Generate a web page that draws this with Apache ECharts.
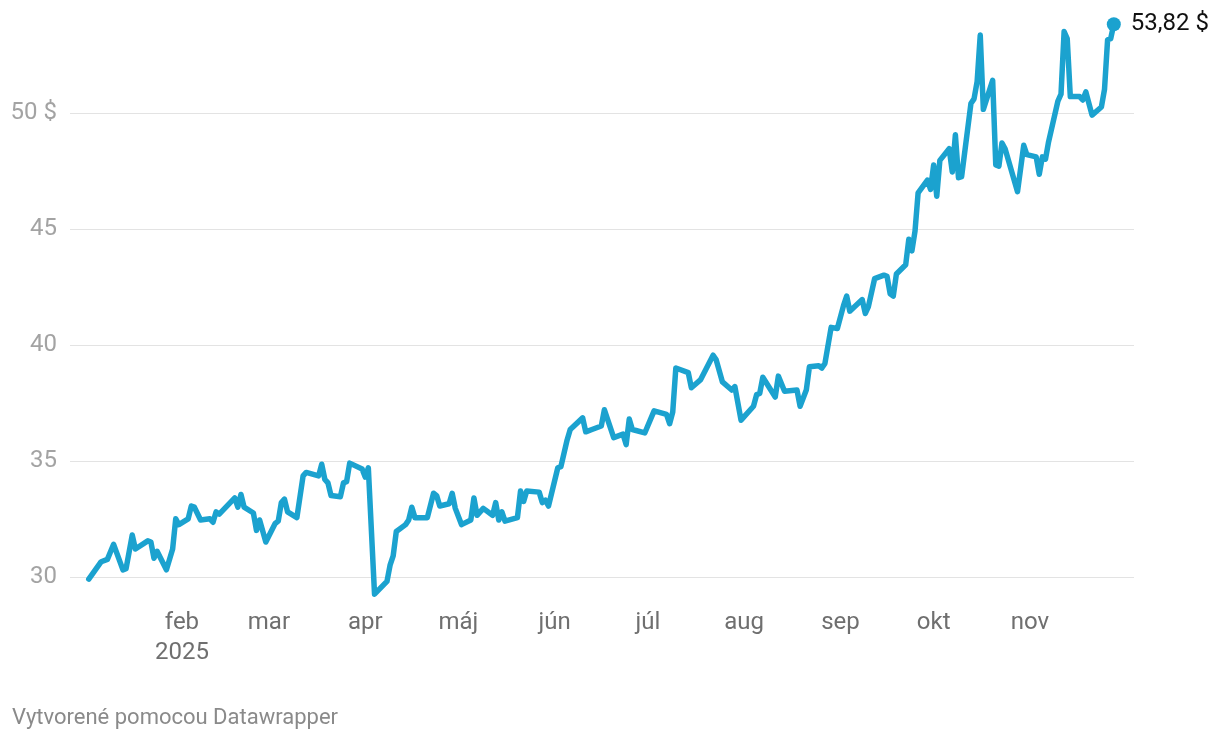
<!DOCTYPE html>
<html><head><meta charset="utf-8">
<script src="https://cdn.jsdelivr.net/npm/echarts@6/dist/echarts.min.js"></script>
<style>html,body{margin:0;padding:0;background:#fff}#c{width:1220px;height:742px}</style>
</head><body><div id="c"></div>
<script>
const dates = [
'2025-01-02','2025-01-06','2025-01-08','2025-01-10','2025-01-13','2025-01-14','2025-01-16','2025-01-17','2025-01-21','2025-01-22','2025-01-23','2025-01-24','2025-01-27','2025-01-29','2025-01-30','2025-01-31',
'2025-02-03','2025-02-04','2025-02-05','2025-02-07','2025-02-10','2025-02-11','2025-02-12','2025-02-13','2025-02-18','2025-02-19','2025-02-20','2025-02-21','2025-02-24','2025-02-25','2025-02-26','2025-02-28',
'2025-03-03','2025-03-04','2025-03-05','2025-03-06','2025-03-07','2025-03-10','2025-03-12','2025-03-13','2025-03-17','2025-03-18','2025-03-19','2025-03-20','2025-03-21','2025-03-24','2025-03-25','2025-03-26','2025-03-27','2025-03-31',
'2025-04-01','2025-04-02','2025-04-04','2025-04-08','2025-04-09','2025-04-10','2025-04-11','2025-04-14','2025-04-15','2025-04-16','2025-04-17','2025-04-21','2025-04-23','2025-04-24','2025-04-25','2025-04-28','2025-04-29','2025-04-30',
'2025-05-02','2025-05-05','2025-05-06','2025-05-07','2025-05-09','2025-05-12','2025-05-13','2025-05-14','2025-05-15','2025-05-16','2025-05-20','2025-05-21','2025-05-22','2025-05-23','2025-05-27','2025-05-28','2025-05-29','2025-05-30',
'2025-06-02','2025-06-03','2025-06-05','2025-06-06','2025-06-10','2025-06-11','2025-06-13','2025-06-16','2025-06-17','2025-06-18','2025-06-20','2025-06-23','2025-06-24','2025-06-25','2025-06-26','2025-06-30',
'2025-07-03','2025-07-07','2025-07-08','2025-07-09','2025-07-10','2025-07-14','2025-07-15','2025-07-18','2025-07-22','2025-07-23','2025-07-25','2025-07-28','2025-07-29','2025-07-31',
'2025-08-04','2025-08-05','2025-08-06','2025-08-07','2025-08-11','2025-08-12','2025-08-14','2025-08-18','2025-08-19','2025-08-21','2025-08-22','2025-08-25','2025-08-26','2025-08-27','2025-08-29','2025-08-31',
'2025-09-02','2025-09-03','2025-09-04','2025-09-08','2025-09-09','2025-09-10','2025-09-12','2025-09-15','2025-09-16','2025-09-17','2025-09-18','2025-09-19','2025-09-22','2025-09-23','2025-09-24','2025-09-25','2025-09-26','2025-09-29','2025-09-30',
'2025-10-01','2025-10-02','2025-10-03','2025-10-06','2025-10-07','2025-10-08','2025-10-09','2025-10-10','2025-10-13','2025-10-14','2025-10-15','2025-10-16','2025-10-17','2025-10-20','2025-10-21','2025-10-22','2025-10-23','2025-10-24','2025-10-28','2025-10-30','2025-10-31',
'2025-11-03','2025-11-04','2025-11-05','2025-11-06','2025-11-07','2025-11-10','2025-11-11','2025-11-12','2025-11-13','2025-11-14','2025-11-17','2025-11-18','2025-11-19','2025-11-21','2025-11-24','2025-11-25','2025-11-26','2025-11-27','2025-11-28'
];
const prices = [
29.9,30.65,30.75,31.4,30.3,30.35,31.8,31.2,31.55,31.5,30.8,31.1,30.3,31.2,32.5,32.25,
32.5,33.05,33.0,32.45,32.5,32.35,32.8,32.7,33.4,33.0,33.55,33.0,32.75,32.0,32.45,31.5,
32.3,32.4,33.2,33.35,32.8,32.55,34.35,34.5,34.35,34.85,34.2,34.05,33.5,33.45,34.05,34.1,34.9,34.65,
34.3,34.7,29.25,29.8,30.5,30.9,31.95,32.25,32.45,33.0,32.55,32.55,33.6,33.5,33.05,33.15,33.6,32.95,
32.25,32.45,33.4,32.65,32.95,32.65,33.2,32.45,32.8,32.4,32.55,33.7,33.25,33.7,33.65,33.2,33.3,33.05,
34.7,34.75,35.9,36.35,36.85,36.25,36.35,36.5,37.2,36.8,36.0,36.15,35.7,36.8,36.35,36.2,
37.15,37.0,36.6,37.1,39.0,38.8,38.15,38.5,39.55,39.35,38.4,38.05,38.2,36.75,
37.35,37.85,37.9,38.6,37.75,38.65,38.0,38.05,37.35,38.05,39.05,39.1,39.0,39.2,40.75,40.7,
41.7,42.1,41.45,41.95,41.35,41.65,42.85,43.0,42.95,42.2,42.1,43.05,43.45,44.55,44.05,44.9,46.55,47.1,46.7,
47.75,46.4,47.95,48.45,47.45,49.05,47.2,47.25,50.4,50.6,51.35,53.35,50.15,51.4,47.75,47.7,48.7,48.45,46.6,48.6,48.2,
48.1,47.35,48.1,48.0,48.75,50.5,50.8,53.5,53.2,50.7,50.7,50.55,50.9,49.9,50.25,51.0,53.15,53.2,53.82
];
const monthTickDates = ['2025-02-01','2025-03-01','2025-04-01','2025-05-01','2025-06-01','2025-07-01','2025-08-01','2025-09-01','2025-10-01','2025-11-01'];
const monthNames = ['jan','feb','mar','apr','máj','jún','júl','aug','sep','okt','nov','dec'];
const yTicks = [30,35,40,45,50];
const footerText = 'Vytvorené pomocou Datawrapper';

function ts(s){ const p = s.split('-').map(Number); return new Date(p[0], p[1]-1, p[2]).getTime(); }
const seriesData = dates.map((d,i)=>[ts(d), prices[i]]);
const last = seriesData[seriesData.length-1];
const fmt = v => v.toFixed(2).replace('.', ',') + ' $';

const chart = echarts.init(document.getElementById('c'), null, {renderer:'canvas'});
chart.setOption({
  animation:false,
  backgroundColor:'#fff',
  textStyle:{fontFamily:'Roboto'},
  grid:{left:70, right:86, top:20, bottom:142, containLabel:false},
  xAxis:{
    type:'value',
    min: new Date(2024,11,26,23).getTime(),
    max: new Date(2025,11,4,12).getTime(),
    axisLine:{show:false},
    axisTick:{show:false, customValues: monthTickDates.map(ts)},
    splitLine:{show:false},
    axisLabel:{
      customValues: monthTickDates.map(ts),
      margin:8,
      color:'#6f6f6f', fontSize:24, lineHeight:30, fontFamily:'Roboto',
      formatter: v => { const d=new Date(v); const n=monthNames[d.getMonth()]; return d.getMonth()===1 ? n+'\n'+d.getFullYear() : n; }
    }
  },
  yAxis:{
    type:'value', min:29, max:54,
    axisLine:{show:false},
    axisTick:{show:false, customValues:yTicks},
    splitLine:{show:true, lineStyle:{color:'#e3e3e3', width:1}},
    axisLabel:{
      customValues:yTicks, margin:13, color:'#a3a3a3', fontSize:24, fontFamily:'Roboto',
      formatter: v => v===50 ? '50 $' : String(v)
    }
  },
  series:[
    {type:'line', data:seriesData, showSymbol:false, symbol:'none',
     lineStyle:{color:'#1ba2cf', width:5.5, join:'round', cap:'round'}, z:2},
    {type:'scatter', data:[last], symbol:'circle', symbolSize:14,
     itemStyle:{color:'#1ba2cf', opacity:1}, z:3,
     label:{show:true, position:'right', distance:10, formatter: p=>fmt(p.value[1]),
            color:'#111111', fontSize:24, fontFamily:'Roboto'}}
  ],
  graphic:[
    {type:'text', left:12, top:707, style:{text:footerText, fill:'#8a8a8a', fontSize:22, fontFamily:'Roboto'}}
  ]
});
</script></body></html>
